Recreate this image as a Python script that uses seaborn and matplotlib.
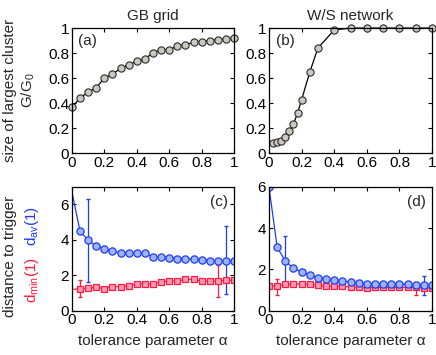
import numpy as np
import pandas as pd
import matplotlib
matplotlib.use("Agg")
import matplotlib.pyplot as plt
import seaborn as sns

sns.set_theme(style="ticks")
plt.rcParams["font.family"] = ["Liberation Sans", "DejaVu Sans"]
plt.rcParams["mathtext.fontset"] = "custom"
plt.rcParams["mathtext.rm"] = "Liberation Sans"
plt.rcParams["mathtext.it"] = "Liberation Sans:italic"

# (a) GB grid, largest cluster
alpha_a = [0, 0.05, 0.1, 0.15, 0.2, 0.25, 0.3, 0.35, 0.4, 0.45, 0.5,
           0.55, 0.6, 0.65, 0.7, 0.75, 0.8, 0.85, 0.9, 0.95, 1.0]
g_a = [0.365, 0.44, 0.488, 0.523, 0.60, 0.632, 0.677, 0.704, 0.736, 0.752, 0.803,
       0.827, 0.827, 0.856, 0.867, 0.885, 0.891, 0.899, 0.907, 0.912, 0.918]

# (b) W/S network, largest cluster
alpha_b = [0.025, 0.05, 0.075, 0.1, 0.125, 0.15, 0.175, 0.2, 0.25, 0.3,
           0.4, 0.5, 0.6, 0.7, 0.8, 0.9, 1.0]
g_b = [0.08, 0.085, 0.10, 0.128, 0.173, 0.232, 0.32, 0.427, 0.648, 0.84,
       0.985, 1.0, 1.0, 1.0, 1.0, 1.0, 1.0]

# (c) GB grid, distances
alpha_c = alpha_a
dav_c = [6.7, 4.49, 3.97, 3.65, 3.48, 3.35, 3.27, 3.27, 3.23, 3.23, 3.04,
         3.04, 3.0, 2.94, 2.94, 2.91, 2.87, 2.83, 2.78, 2.81, 2.82]
dmin_c = [1.2, 1.23, 1.27, 1.31, 1.25, 1.35, 1.35, 1.4, 1.5, 1.5, 1.5,
          1.63, 1.68, 1.68, 1.76, 1.76, 1.66, 1.66, 1.66, 1.72, 1.72]
# error bars: (alpha, low, high)
err_dav_c = [(0.1, 1.6, 6.3), (0.95, 0.93, 4.8)]
err_dmin_c = [(0.05, 0.75, 1.72), (0.9, 0.79, 2.56)]

# (d) W/S network, distances
alpha_d = alpha_a
dav_d = [5.97, 3.07, 2.4, 2.05, 1.88, 1.72, 1.6, 1.52, 1.46, 1.44, 1.38,
         1.35, 1.3, 1.3, 1.29, 1.29, 1.28, 1.28, 1.26, 1.24, 1.23]
dmin_d = [1.2, 1.2, 1.27, 1.27, 1.3, 1.27, 1.22, 1.18, 1.18, 1.18, 1.15,
          1.12, 1.1, 1.12, 1.12, 1.12, 1.12, 1.12, 1.12, 1.1, 1.1]
err_dav_d = [(0.1, 1.4, 3.6), (0.95, 0.75, 1.7)]
err_dmin_d = [(0.05, 0.78, 1.55), (0.9, 0.75, 1.4)]

GRAY_F, GRAY_E = "#c9c9c0", "#2a2a2a"
BLUE_F, BLUE_E = "#9db4f5", "#1f3cf5"
RED_F, RED_E = "#f59cbc", "#ff1a3c"

fig = plt.figure(figsize=(4.36, 3.55), dpi=100)
ax_a = fig.add_axes([0.165, 0.569, 0.372, 0.352])
ax_b = fig.add_axes([0.617, 0.569, 0.374, 0.352])
ax_c = fig.add_axes([0.165, 0.125, 0.372, 0.349])
ax_d = fig.add_axes([0.617, 0.125, 0.374, 0.349])

fs = 11
ms = 5.2
xt = [0, 0.2, 0.4, 0.6, 0.8, 1]
xtl = ["0", "0.2", "0.4", "0.6", "0.8", "1"]


def style(ax, ylim, yt, ytl):
    ax.set_xlim(0, 1)
    ax.set_ylim(*ylim)
    ax.set_xticks(xt)
    ax.set_xticklabels(xtl)
    ax.set_yticks(yt)
    ax.set_yticklabels(ytl)
    ax.tick_params(direction="in", top=True, right=True, length=3,
                   width=0.8, labelsize=fs, pad=2, colors="black")
    for s in ax.spines.values():
        s.set_linewidth(0.9)
        s.set_color("black")
    ax.set_xlabel("")
    ax.set_ylabel("")


def cluster_panel(ax, x, y, lab):
    df = pd.DataFrame({"alpha": x, "g": y})
    sns.lineplot(data=df, x="alpha", y="g", ax=ax, color="black", lw=0.9,
                 marker="o", markersize=ms, markerfacecolor=GRAY_F,
                 markeredgecolor=GRAY_E, markeredgewidth=0.8, clip_on=False)
    style(ax, (0, 1), [0, 0.2, 0.4, 0.6, 0.8, 1],
          ["0", "0.2", "0.4", "0.6", "0.8", "1"])
    ax.text(0.04, 0.95, lab, transform=ax.transAxes, ha="left", va="top",
            fontsize=fs)


def dist_panel(ax, x, dav, dmin, e_av, e_min, first_marker, ylim, yt, lab):
    start = 0 if first_marker else 1
    for e in e_min:
        ax.errorbar([e[0]], [(e[1] + e[2]) / 2], yerr=[[(e[2] - e[1]) / 2]],
                    fmt="none", ecolor=RED_E, elinewidth=0.9, capsize=1.5)
    for e in e_av:
        ax.errorbar([e[0]], [(e[1] + e[2]) / 2], yerr=[[(e[2] - e[1]) / 2]],
                    fmt="none", ecolor=BLUE_E, elinewidth=0.9, capsize=1.5)
    df = pd.DataFrame({"alpha": x, "dav": dav, "dmin": dmin})
    sns.lineplot(data=df, x="alpha", y="dmin", ax=ax, color=RED_E, lw=0.9,
                 marker="s", markersize=ms - 0.2, markerfacecolor=RED_F,
                 markeredgecolor=RED_E, markeredgewidth=0.9,
                 markevery=slice(start, None))
    sns.lineplot(data=df, x="alpha", y="dav", ax=ax, color=BLUE_E, lw=0.9,
                 marker="o", markersize=ms, markerfacecolor=BLUE_F,
                 markeredgecolor=BLUE_E, markeredgewidth=0.9,
                 markevery=slice(start, None))
    style(ax, ylim, yt, [str(v) for v in yt])
    ax.text(0.96, 0.93, lab, transform=ax.transAxes, ha="right", va="top",
            fontsize=fs)


cluster_panel(ax_a, alpha_a, g_a, "(a)")
cluster_panel(ax_b, alpha_b, g_b, "(b)")
dist_panel(ax_c, alpha_c, dav_c, dmin_c, err_dav_c, err_dmin_c, False,
           (0, 7), [0, 2, 4, 6], "(c)")
dist_panel(ax_d, alpha_d, dav_d, dmin_d, err_dav_d, err_dmin_d, True,
           (0, 6), [0, 2, 4, 6], "(d)")

ax_a.set_title("GB grid", fontsize=fs, pad=6)
ax_b.set_title("W/S network", fontsize=fs, pad=6)
ax_c.set_xlabel("tolerance parameter α", fontsize=fs, labelpad=5)
ax_d.set_xlabel("tolerance parameter α", fontsize=fs, labelpad=5)

fig.text(10 / 436, 1 - 90 / 355, "size of largest cluster", rotation=90,
         ha="center", va="center", fontsize=fs)
fig.text(28 / 436, 1 - 90 / 355, "G/G$_0$", rotation=90,
         ha="center", va="center", fontsize=fs)
fig.text(10 / 436, 1 - 256 / 355, "distance to trigger", rotation=90,
         ha="center", va="center", fontsize=fs)
fig.text(32 / 436, 1 - 280 / 355, "d$_{\\mathrm{min}}$(1)", rotation=90,
         ha="center", va="center", fontsize=fs, color=RED_E)
fig.text(32 / 436, 1 - 226 / 355, "d$_{\\mathrm{av}}$(1)", rotation=90,
         ha="center", va="center", fontsize=fs, color=BLUE_E)

fig.savefig("out.png", dpi=100)
